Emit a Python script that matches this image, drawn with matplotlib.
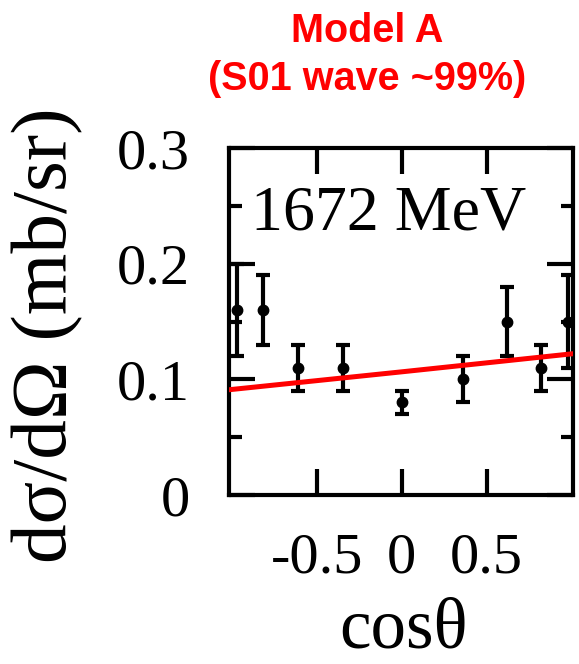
import matplotlib
matplotlib.use("Agg")
import matplotlib.pyplot as plt
from matplotlib.ticker import MultipleLocator

# measured data at 1672 MeV
cos_theta = [-0.97, -0.82, -0.61, -0.35, 0.0, 0.36, 0.62, 0.82, 0.98]
dsigma = [0.16, 0.16, 0.11, 0.11, 0.08, 0.10, 0.15, 0.11, 0.15]
dsigma_err = [0.04, 0.03, 0.02, 0.02, 0.01, 0.02, 0.03, 0.02, 0.04]

# Model A curve
model_cos = [-1.02, 0.0, 1.0]
model_dsigma = [0.091, 0.1065, 0.122]

x_ticks = [-0.5, 0, 0.5]
x_tick_labels = ["-0.5", "0", "0.5"]
y_ticks = [0, 0.1, 0.2, 0.3]
y_tick_labels = ["0", "0.1", "0.2", "0.3"]

plt.rcParams["font.family"] = ["Liberation Serif", "DejaVu Serif"]

fig = plt.figure(figsize=(5.79, 6.64), dpi=100)
ax = fig.add_axes([229 / 579, 1 - 495 / 664, (573 - 229) / 579, (495 - 148) / 664])

ax.errorbar(
    cos_theta,
    dsigma,
    yerr=dsigma_err,
    fmt="o",
    color="black",
    markersize=7.5,
    elinewidth=3,
    capsize=5,
    capthick=3,
    clip_on=False,
    zorder=3,
)
ax.plot(model_cos, model_dsigma, color="#ff0000", linewidth=3.6, zorder=4)

ax.set_xlim(-1.02, 1.01)
ax.set_ylim(0, 0.3)
ax.set_xticks(x_ticks)
ax.set_xticklabels(x_tick_labels)
ax.set_yticks(y_ticks)
ax.set_yticklabels(y_tick_labels)
ax.yaxis.set_minor_locator(MultipleLocator(0.05))

ax.tick_params(axis="both", which="both", direction="in", top=True, right=True, width=3)
ax.tick_params(axis="x", which="major", length=19, labelsize=42, pad=27)
ax.tick_params(axis="y", which="major", length=19, labelsize=42, pad=28)
ax.tick_params(axis="y", which="minor", length=9)
for spine in ax.spines.values():
    spine.set_linewidth(3)

ax.text(0.065, 0.807, "1672 MeV", transform=ax.transAxes, fontsize=46, va="center", ha="left")

fig.text(48 / 579, 1 - 335 / 664, "dσ/dΩ (mb/sr)", rotation=90,
         fontsize=57, ha="center", va="center")
fig.text(404 / 579, 1 - 648 / 664, "cosθ", fontsize=51, ha="center", va="baseline")

fig.text(367 / 579, 1 - 55 / 664, "Model A\n(S01 wave ~99%)", color="#ff0000",
         fontsize=28.5, fontweight="bold", family="Liberation Sans",
         ha="center", va="center", linespacing=1.35)

fig.savefig("out.png", dpi=100)
